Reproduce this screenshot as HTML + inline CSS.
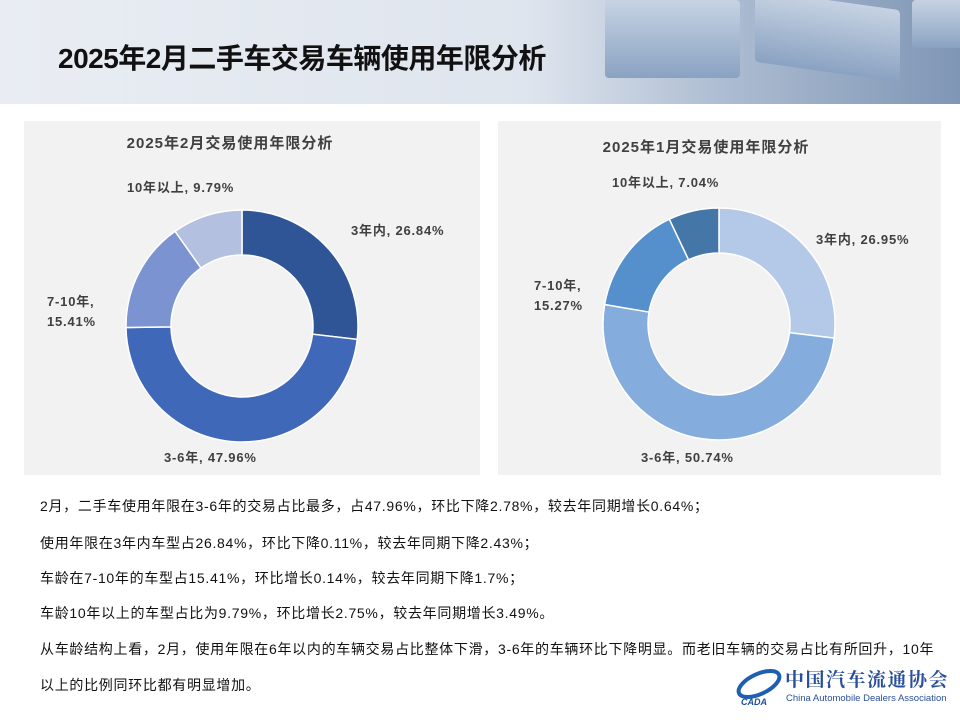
<!DOCTYPE html>
<html><head><meta charset="utf-8"><style>
body{margin:0;width:960px;height:720px;background:#fff;position:relative;overflow:hidden;font-family:"Liberation Sans","Noto Sans CJK SC",sans-serif}
#hdr{position:absolute;left:0;top:0;width:960px;height:104px;background:linear-gradient(90deg,#e9edf3 0%,#dfe5ee 55%,#aebdd2 75%,#7f96b5 100%)}
.cube{position:absolute;background:linear-gradient(180deg,#c7d3e3,#8aa2c2);border-radius:4px}
h1{position:absolute;left:58px;top:37px;margin:0;font-size:28px;font-weight:bold;color:#111;letter-spacing:-0.5px;white-space:nowrap}
.panel{position:absolute;top:121px;height:354px;background:#f2f2f2}
.txt{position:absolute;left:40px;font-size:14px;letter-spacing:0.7px;color:#111;white-space:nowrap}
</style></head><body>
<div id="hdr">
<div class="cube" style="left:605px;top:0;width:135px;height:78px"></div>
<div class="cube" style="left:755px;top:0;width:145px;height:72px;transform:skewY(8deg)"></div>
<div class="cube" style="left:912px;top:0;width:60px;height:48px"></div>
</div>
<h1>2025年2月二手车交易车辆使用年限分析</h1>
<div class="panel" style="left:24px;width:456px"></div>
<div class="panel" style="left:498px;width:443px"></div>
<svg id="svg" width="960" height="720" style="position:absolute;left:0;top:0"></svg>
<div class="txt" style="top:496px">2月，二手车使用年限在3-6年的交易占比最多，占47.96%，环比下降2.78%，较去年同期增长0.64%；</div>
<div class="txt" style="top:533px">使用年限在3年内车型占26.84%，环比下降0.11%，较去年同期下降2.43%；</div>
<div class="txt" style="top:568px">车龄在7-10年的车型占15.41%，环比增长0.14%，较去年同期下降1.7%；</div>
<div class="txt" style="top:603px">车龄10年以上的车型占比为9.79%，环比增长2.75%，较去年同期增长3.49%。</div>
<div class="txt" style="top:639px">从车龄结构上看，2月，使用年限在6年以内的车辆交易占比整体下滑，3-6年的车辆环比下降明显。而老旧车辆的交易占比有所回升，10年</div>
<div class="txt" style="top:675px">以上的比例同环比都有明显增加。</div>
<div style="position:absolute;left:735px;top:662px;width:225px;height:45px">
<svg width="50" height="45" style="position:absolute;left:0;top:0"><ellipse cx="24" cy="22" rx="22" ry="10" fill="none" stroke="#1f5fb0" stroke-width="4" transform="rotate(-25 24 22)"/><text x="6" y="43" font-size="9" font-weight="bold" font-style="italic" fill="#1f4e9a">CADA</text></svg>
<div style="position:absolute;left:50px;top:3px;font-size:19px;color:#2a4f9a;font-family:'Noto Serif CJK SC',serif;font-weight:bold;letter-spacing:1.5px;white-space:nowrap">中国汽车流通协会</div>
<div style="position:absolute;left:51px;top:31px;font-size:9.5px;color:#2a4f9a;white-space:nowrap">China Automobile Dealers Association</div>
</div>
<script>
const categories=["3年内","3-6年","7-10年","10年以上"];
const febValues=[26.84,47.96,15.41,9.79];
const janValues=[26.95,50.74,15.27,7.04];
const febColors=["#2f5597","#4068b8","#7b93d0","#b4c0e0"];
const janColors=["#b4c8e8","#84acdc","#5590cc","#4576a8"];
const NS="http://www.w3.org/2000/svg";
const svg=document.getElementById('svg');
function donut(cx,cy,vals,cols,name){
 const R=116,r=71,tot=vals.reduce((a,b)=>a+b,0);let a0=-Math.PI/2;
 vals.forEach((v,i)=>{
  const a1=a0+v/tot*2*Math.PI,lg=(a1-a0)>Math.PI?1:0;
  const p=(rad,a)=>[cx+rad*Math.cos(a),cy+rad*Math.sin(a)];
  const [x0,y0]=p(R,a0),[x1,y1]=p(R,a1),[x2,y2]=p(r,a1),[x3,y3]=p(r,a0);
  const el=document.createElementNS(NS,'path');
  el.setAttribute('d',`M${x0},${y0}A${R},${R} 0 ${lg} 1 ${x1},${y1}L${x2},${y2}A${r},${r} 0 ${lg} 0 ${x3},${y3}Z`);
  el.setAttribute('fill',cols[i]);el.setAttribute('stroke','#fff');el.setAttribute('stroke-width','1.5');
  
  
  svg.appendChild(el);a0=a1;
 });
}
function label(x,y,lines,name,anchor,fs,ls){
 const t=document.createElementNS(NS,'text');
 t.setAttribute('x',x);t.setAttribute('y',y);t.setAttribute('font-size',fs||'13');t.setAttribute('letter-spacing',ls||'0.8');t.setAttribute('font-weight','bold');t.setAttribute('fill','#404040');t.setAttribute('text-anchor',anchor||'start');
 
 
 lines.forEach((l,i)=>{const s=document.createElementNS(NS,'tspan');s.setAttribute('x',x);s.setAttribute('dy',i?20:0);s.textContent=l;t.appendChild(s);});
 svg.appendChild(t);
}
donut(242,326,febValues,febColors,'feb');
donut(719,324,janValues,janColors,'jan');
label(230,148,["2025年2月交易使用年限分析"],'feb-chart-title','middle','15','1');
label(706,152,["2025年1月交易使用年限分析"],'jan-chart-title','middle','15','1');
label(351,235,[categories[0]+", "+febValues[0].toFixed(2)+"%"],'feb-label-0');
label(164,462,[categories[1]+", "+febValues[1].toFixed(2)+"%"],'feb-label-1');
label(47,306,[categories[2]+",",febValues[2].toFixed(2)+"%"],'feb-label-2');
label(127,192,[categories[3]+", "+febValues[3].toFixed(2)+"%"],'feb-label-3');
label(816,244,[categories[0]+", "+janValues[0].toFixed(2)+"%"],'jan-label-0');
label(641,462,[categories[1]+", "+janValues[1].toFixed(2)+"%"],'jan-label-1');
label(534,290,[categories[2]+",",janValues[2].toFixed(2)+"%"],'jan-label-2');
label(612,187,[categories[3]+", "+janValues[3].toFixed(2)+"%"],'jan-label-3');
</script>
</body></html>
